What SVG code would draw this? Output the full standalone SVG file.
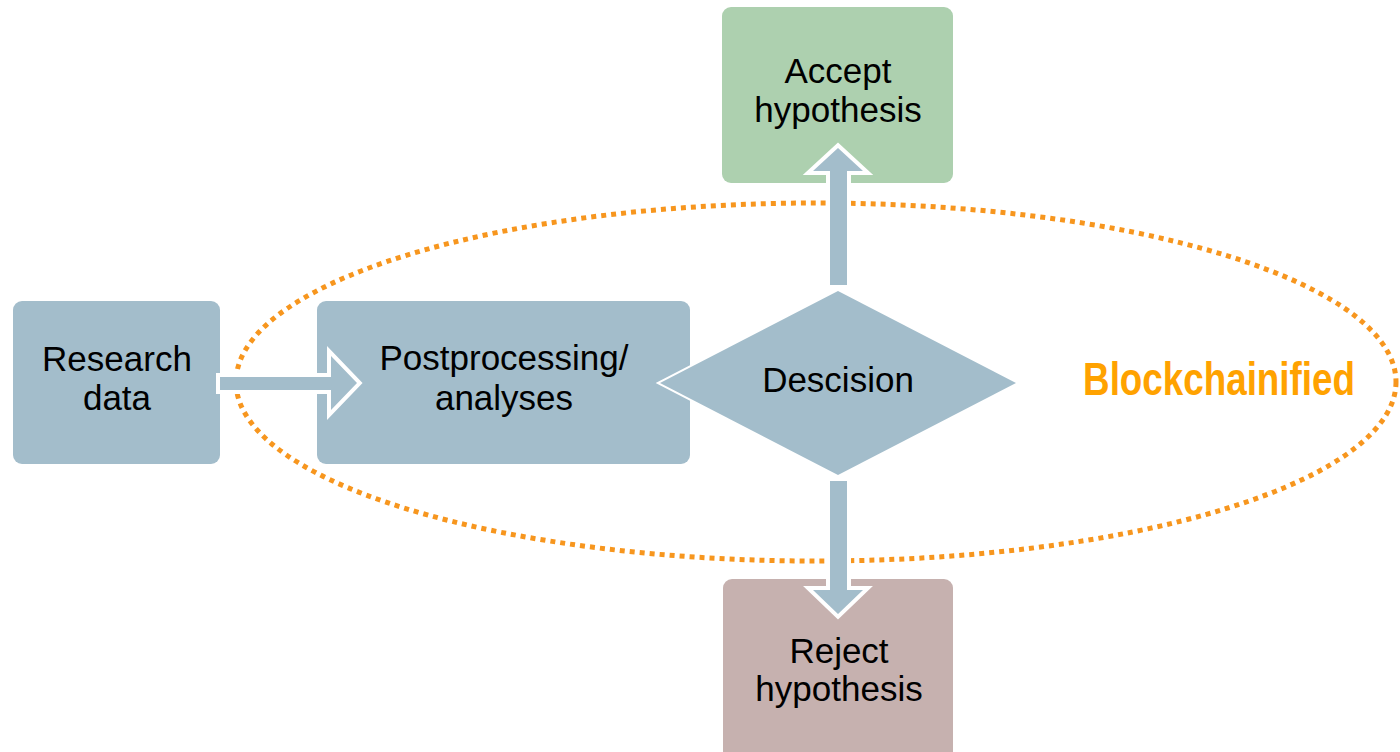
<svg xmlns="http://www.w3.org/2000/svg" width="1400" height="752" viewBox="0 0 1400 752">
<style>
.lbl{font-family:"Liberation Sans",Arial,sans-serif;font-size:35px;fill:#000;text-anchor:middle}
.blue{fill:#a3bdcb}
.arrow{fill:#a3bdcb;stroke:#fff;stroke-width:8;paint-order:stroke;stroke-linejoin:miter}
</style>
<rect width="1400" height="752" fill="#fff"/>
<g id="boundary">
<ellipse cx="816" cy="382" rx="580" ry="179" fill="none" stroke="#f7961e" stroke-width="5" stroke-dasharray="5 5"/>
<text transform="translate(1219,395) scale(0.8,1)" x="0" y="0" font-family="'Liberation Sans',Arial,sans-serif" font-weight="bold" font-size="46" fill="#ffa200" text-anchor="middle">Blockchainified</text>
</g>
<g id="research">
<rect x="13" y="301" width="207" height="163" rx="9" class="blue"/>
<text class="lbl" x="117" y="371">Research</text>
<text class="lbl" x="117" y="410">data</text>
</g>
<g id="postprocessing">
<rect x="317" y="301" width="373" height="163" rx="9" class="blue"/>
<text class="lbl" x="504" y="370">Postprocessing/</text>
<text class="lbl" x="504" y="410">analyses</text>
</g>
<g id="accept">
<rect x="722" y="7" width="231" height="176" rx="9" fill="#add0af"/>
<text class="lbl" x="838" y="83">Accept</text>
<text class="lbl" x="838" y="122">hypothesis</text>
</g>
<g id="reject">
<rect x="723" y="579" width="230" height="190" rx="9" fill="#c6b1af"/>
<text class="lbl" x="839" y="663">Reject</text>
<text class="lbl" x="839" y="701">hypothesis</text>
</g>
<g id="decision">
<polygon points="838,291 1016,383 838,475 660,383" class="blue" stroke="#fff" stroke-width="4" paint-order="stroke"/>
<text class="lbl" x="838" y="392">Descision</text>
</g>
<g id="connectors">
<polygon class="arrow" points="220,377 331,377 331,356 357,383 331,410 331,390 220,390"/>
<polygon class="arrow" points="830,285 830,171 813,171 838,148 863,171 847,171 847,285"/>
<polygon class="arrow" points="830,481 847,481 847,590 863,590 838,614 813,590 830,590"/>
</g>
</svg>
